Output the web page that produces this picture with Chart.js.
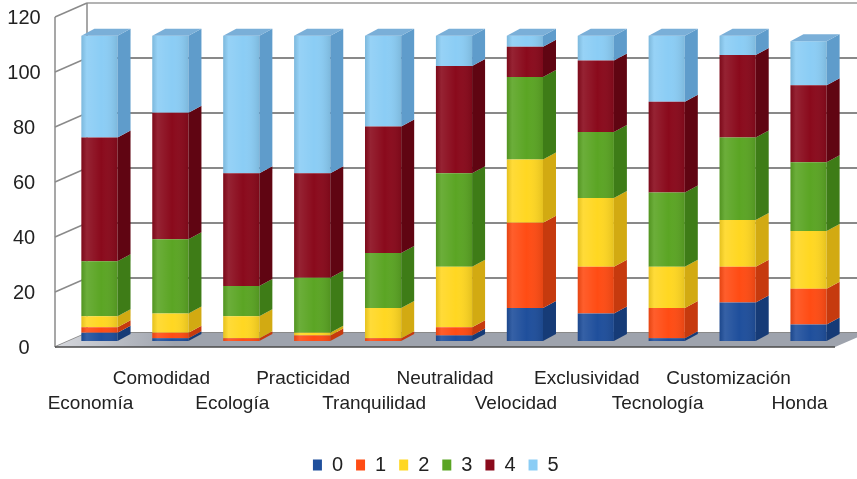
<!DOCTYPE html>
<html>
<head>
<meta charset="utf-8">
<script src="https://cdn.jsdelivr.net/npm/chart.js@4/dist/chart.umd.min.js"></script>
<style>
  html, body { margin: 0; padding: 0; background: #ffffff; }
  #wrap { width: 857px; height: 479px; position: relative; }
</style>
</head>
<body>
<div id="wrap"><canvas id="chart" width="857" height="479"></canvas></div>
<script>
// Attribute ratings (number of answers per score 0..5)
const categories = ['Economía', 'Comodidad', 'Ecología', 'Practicidad', 'Tranquilidad', 'Neutralidad',
                    'Velocidad', 'Exclusividad', 'Tecnología', 'Customización', 'Honda'];
const seriesNames = ['0', '1', '2', '3', '4', '5'];
const score0 = [3, 1, 0, 0, 0, 2, 12, 10, 1, 14, 6];
const score1 = [2, 2, 1, 2, 1, 3, 31, 17, 11, 13, 13];
const score2 = [4, 7, 8, 1, 11, 22, 23, 25, 15, 17, 21];
const score3 = [20, 27, 11, 20, 20, 34, 30, 24, 27, 30, 25];
const score4 = [45, 46, 41, 38, 46, 39, 11, 26, 33, 30, 28];
const score5 = [37, 28, 50, 50, 33, 11, 4, 9, 24, 7, 16];
const yTickValues = [0, 20, 40, 60, 80, 100, 120];

const seriesValues = [score0, score1, score2, score3, score4, score5];

// face colours: front, right side, top
const frontColors = ['#1f4f9c', '#ff4c14', '#ffd722', '#5ba524', '#8a0a1c', '#8bcdf5'];
const sideColors  = ['#163b77', '#c63a0e', '#d2aa12', '#3e7c17', '#600512', '#5f9ccb'];
const topColors   = ['#3463ad', '#ff6d3c', '#ffe35e', '#77bb40', '#a3233a', '#7aafd8'];

// pseudo-3D geometry (pixels)
const DEPTH = { barDx: 13, barDy: -7, frontDx: -9, frontDy: 6, backDx: 23, backDy: -8 };

function poly(ctx, pts, fill) {
  ctx.beginPath();
  ctx.moveTo(pts[0][0], pts[0][1]);
  for (let i = 1; i < pts.length; i++) ctx.lineTo(pts[i][0], pts[i][1]);
  ctx.closePath();
  ctx.fillStyle = fill;
  ctx.fill();
}

// walls, gridlines and floor behind the columns
const wallsPlugin = {
  id: 'walls',
  beforeDatasetsDraw(chart) {
    const ctx = chart.ctx;
    const a = chart.chartArea;
    const ys = chart.scales.y;
    const fL = a.left + DEPTH.frontDx, bL = a.left + DEPTH.backDx;
    const fR = a.right + DEPTH.frontDx, bR = a.right + DEPTH.backDx;
    const y0 = ys.getPixelForValue(0);
    const yMax = ys.getPixelForValue(yTickValues[yTickValues.length - 1]);
    ctx.save();
    // back wall gridlines + left wall tick lines
    yTickValues.forEach(v => {
      const p = ys.getPixelForValue(v);
      ctx.strokeStyle = v === yTickValues[yTickValues.length - 1] ? '#9a9a9a' : '#626262';
      ctx.lineWidth = 1.6;
      ctx.beginPath();
      ctx.moveTo(bL, p + DEPTH.backDy);
      ctx.lineTo(chart.width, p + DEPTH.backDy);
      ctx.stroke();
      ctx.strokeStyle = '#8a8a8a';
      ctx.lineWidth = 1.5;
      ctx.beginPath();
      ctx.moveTo(fL, p + DEPTH.frontDy);
      ctx.lineTo(bL, p + DEPTH.backDy);
      ctx.stroke();
    });
    // left wall edges
    ctx.strokeStyle = '#8a8a8a';
    ctx.lineWidth = 1.5;
    ctx.beginPath();
    ctx.moveTo(fL, y0 + DEPTH.frontDy); ctx.lineTo(fL, yMax + DEPTH.frontDy);
    ctx.moveTo(bL, y0 + DEPTH.backDy); ctx.lineTo(bL, yMax + DEPTH.backDy);
    ctx.stroke();
    // floor
    const g = ctx.createLinearGradient(fL, 0, fL + 120, 0);
    g.addColorStop(0, '#d6d8dd');
    g.addColorStop(1, '#9ea3ad');
    poly(ctx, [[fL, y0 + DEPTH.frontDy], [fR, y0 + DEPTH.frontDy], [bR, y0 + DEPTH.backDy], [bL, y0 + DEPTH.backDy]], g);
    ctx.strokeStyle = '#4a4a4a';
    ctx.lineWidth = 1.5;
    ctx.beginPath();
    ctx.moveTo(fL, y0 + DEPTH.frontDy); ctx.lineTo(fR, y0 + DEPTH.frontDy);
    ctx.stroke();
    ctx.restore();
  }
};

// soft shading on the front faces, then right side and top faces of every segment
const depthPlugin = {
  id: 'depth',
  afterDatasetsDraw(chart) {
    const ctx = chart.ctx;
    const n = chart.data.labels.length;
    ctx.save();
    for (let i = 0; i < n; i++) {
      let topEl = null, topDs = -1;
      chart.data.datasets.forEach((ds, d) => {
        const meta = chart.getDatasetMeta(d);
        const el = meta.data[i];
        if (!el || !ds.data[i]) return;
        const { x, y, base, width } = el.getProps(['x', 'y', 'base', 'width'], true);
        const x1 = x - width / 2, x2 = x + width / 2;
        const shade = ctx.createLinearGradient(x1, 0, x2, 0);
        shade.addColorStop(0, 'rgba(0,0,0,0.10)');
        shade.addColorStop(0.15, 'rgba(255,255,255,0.10)');
        shade.addColorStop(0.55, 'rgba(255,255,255,0)');
        shade.addColorStop(1, 'rgba(0,0,0,0.10)');
        ctx.fillStyle = shade;
        ctx.fillRect(x1, y, width, base - y);
        poly(ctx, [[x2, y], [x2 + DEPTH.barDx, y + DEPTH.barDy], [x2 + DEPTH.barDx, base + DEPTH.barDy], [x2, base]], sideColors[d]);
        topEl = { x, y, width }; topDs = d;
      });
      if (topEl) {
        const x1 = topEl.x - topEl.width / 2, x2 = topEl.x + topEl.width / 2, y = topEl.y;
        poly(ctx, [[x1, y], [x1 + DEPTH.barDx, y + DEPTH.barDy], [x2 + DEPTH.barDx, y + DEPTH.barDy], [x2, y]], topColors[topDs]);
      }
    }
    ctx.restore();
  }
};

const datasets = seriesNames.map((name, d) => ({
  label: name,
  data: seriesValues[d],
  backgroundColor: frontColors[d],
  borderWidth: 0,
  stack: 'all',
  categoryPercentage: 1,
  barPercentage: 0.51
}));

new Chart(document.getElementById('chart'), {
  type: 'bar',
  data: { labels: categories, datasets },
  plugins: [wallsPlugin, depthPlugin],
  options: {
    responsive: false,
    animation: false,
    layout: { padding: { left: 0, right: -14.6, top: 11, bottom: -6 } },
    plugins: {
      legend: {
        position: 'bottom',
        align: 'center',
        labels: {
          boxWidth: 9,
          boxHeight: 11,
          padding: 13,
          color: '#222222',
          font: { family: '"Liberation Sans", Arial, sans-serif', size: 20 }
        }
      },
      tooltip: { enabled: false }
    },
    scales: {
      x: {
        stacked: true,
        grid: { display: false, drawTicks: false },
        border: { display: false },
        ticks: {
          autoSkip: false,
          maxRotation: 0,
          minRotation: 0,
          padding: 25.5,
          labelOffset: -9,
          color: '#222222',
          font: { family: '"Liberation Sans", Arial, sans-serif', size: 19, lineHeight: 1.3 },
          callback: (v, i) => (i % 2 === 0 ? ['', categories[i]] : [categories[i], ''])
        },
        afterFit(scale) {
          scale.height = 101;
          scale.paddingLeft = 0;
          scale.paddingRight = 13;
        }
      },
      y: {
        stacked: true,
        min: 0,
        max: 120,
        grid: { display: false, drawTicks: false },
        border: { display: false },
        afterBuildTicks(scale) {
          scale.ticks = yTickValues.map(v => ({ value: v }));
        },
        ticks: {
          padding: 23.3,
          crossAlign: 'center',
          labelOffset: 7,
          color: '#222222',
          font: { family: '"Liberation Sans", Arial, sans-serif', size: 20 }
        },
        afterFit(scale) {
          scale.width = 64;
          scale.paddingTop = 0;
          scale.paddingBottom = 0;
        }
      }
    }
  }
});
</script>
</body>
</html>
